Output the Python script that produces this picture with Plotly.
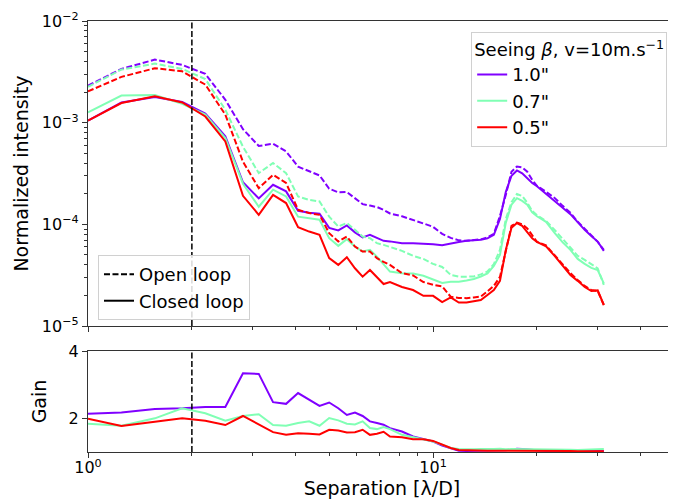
"""Normalized intensity and gain vs separation, open and closed loop"""

import plotly.graph_objects as go

# separation [lambda/D]
separation = [1.0, 1.25, 1.5625, 1.875, 2.1875, 2.5, 2.8125, 3.125, 3.4375, 3.75,
              4.0625, 4.375, 4.6875, 5.0, 5.3125, 5.625, 5.9375, 6.25, 6.5625, 6.875,
              7.1875, 7.5, 8.125, 8.75, 9.375, 10.0, 10.625, 11.25, 11.875, 12.5,
              13.125, 13.75, 14.375, 15.0, 15.625, 16.25, 16.875, 17.5, 18.125, 18.75,
              19.375, 20.0, 21.25, 22.5, 23.75, 25.0, 26.25, 27.5, 28.75, 30.0, 31.25]

# seeing 1.0"
open_10 = [2.31e-3, 3.38e-3, 4.17e-3, 3.70e-3, 3.02e-3, 1.68e-3, 8.63e-4, 5.9e-4, 6.21e-4, 5.22e-4,
           3.69e-4, 3.31e-4, 3.03e-4, 2.24e-4, 2.06e-4, 2.08e-4, 1.81e-4, 1.58e-4, 1.53e-4, 1.48e-4,
           1.39e-4, 1.28e-4, 1.20e-4, 1.11e-4, 1.02e-4, 9.45e-5, 8.06e-5, 7.36e-5, 6.96e-5, 6.88e-5,
           7.04e-5, 7.12e-5, 7.45e-5, 8.06e-5, 1.21e-4, 1.95e-4, 3.29e-4, 3.71e-4, 3.64e-4, 3.29e-4,
           2.74e-4, 2.39e-4, 2.09e-4, 1.82e-4, 1.52e-4, 1.30e-4, 1.06e-4, 9.03e-5, 7.70e-5, 6.72e-5, 5.61e-5]
closed_10 = [1.05e-3, 1.58e-3, 1.79e-3, 1.60e-3, 1.23e-3, 7.33e-4, 2.59e-4, 1.80e-4, 2.45e-4, 2.11e-4,
             1.36e-4, 1.30e-4, 1.27e-4, 9.24e-5, 8.73e-5, 9.77e-5, 8.34e-5, 7.45e-5, 7.88e-5, 7.36e-5,
             6.88e-5, 6.80e-5, 6.53e-5, 6.53e-5, 6.50e-5, 6.38e-5, 6.24e-5, 6.50e-5, 6.72e-5, 6.88e-5,
             6.99e-5, 7.04e-5, 7.28e-5, 7.88e-5, 1.13e-4, 2.09e-4, 3.01e-4, 3.39e-4, 3.18e-4, 2.87e-4,
             2.55e-4, 2.37e-4, 2.00e-4, 1.70e-4, 1.45e-4, 1.26e-4, 1.05e-4, 8.83e-5, 7.70e-5, 6.77e-5, 5.48e-5]

# seeing 0.7"
open_07 = [2.25e-3, 3.33e-3, 3.81e-3, 3.38e-3, 2.69e-3, 1.34e-3, 5.80e-4, 3.19e-4, 4.01e-4, 3.19e-4,
           1.88e-4, 1.74e-4, 1.68e-4, 1.19e-4, 9.51e-5, 1.03e-4, 8.83e-5, 7.59e-5, 7.31e-5, 6.53e-5,
           6.28e-5, 6.00e-5, 5.48e-5, 4.90e-5, 4.57e-5, 4.08e-5, 3.81e-5, 3.18e-5, 3.06e-5, 3.06e-5,
           3.07e-5, 3.22e-5, 3.44e-5, 4.06e-5, 5.61e-5, 1.13e-4, 1.65e-4, 1.99e-4, 1.90e-4, 1.63e-4,
           1.36e-4, 1.23e-4, 1.08e-4, 8.83e-5, 7.20e-5, 6.04e-5, 4.90e-5, 4.47e-5, 4.04e-5, 3.69e-5, 2.54e-5]
closed_07 = [1.26e-3, 1.85e-3, 1.87e-3, 1.53e-3, 1.20e-3, 7.07e-4, 2.51e-4, 1.49e-4, 2.19e-4, 1.88e-4,
             1.19e-4, 1.15e-4, 1.11e-4, 7.31e-5, 6.14e-5, 7.15e-5, 6.04e-5, 5.40e-5, 5.61e-5, 4.82e-5,
             4.08e-5, 3.43e-5, 3.31e-5, 3.29e-5, 3.12e-5, 2.85e-5, 2.65e-5, 2.73e-5, 2.73e-5, 2.81e-5,
             2.90e-5, 3.07e-5, 3.29e-5, 3.90e-5, 5.01e-5, 1.04e-4, 1.56e-4, 1.81e-4, 1.70e-4, 1.56e-4,
             1.31e-4, 1.20e-4, 1.06e-4, 8.25e-5, 6.65e-5, 5.61e-5, 4.57e-5, 4.08e-5, 3.73e-5, 3.55e-5, 2.63e-5]

# seeing 0.5"
open_05 = [2.03e-3, 2.82e-3, 3.43e-3, 3.20e-3, 2.37e-3, 1.20e-3, 4.13e-4, 2.27e-4, 3.07e-4, 2.55e-4,
           1.39e-4, 1.29e-4, 1.24e-4, 8.19e-5, 6.77e-5, 7.59e-5, 6.04e-5, 5.40e-5, 5.40e-5, 4.65e-5,
           4.27e-5, 3.99e-5, 3.31e-5, 3.14e-5, 2.71e-5, 2.54e-5, 2.45e-5, 1.94e-5, 1.89e-5, 1.88e-5,
           1.91e-5, 1.95e-5, 2.19e-5, 2.48e-5, 3.04e-5, 5.61e-5, 9.67e-5, 1.04e-4, 1.00e-4, 9.13e-5,
           7.70e-5, 6.72e-5, 6.21e-5, 5.01e-5, 4.04e-5, 3.31e-5, 2.84e-5, 2.48e-5, 2.26e-5, 2.21e-5, 1.61e-5]
closed_05 = [1.05e-3, 1.56e-3, 1.82e-3, 1.58e-3, 1.15e-3, 6.54e-4, 1.91e-4, 1.24e-4, 1.95e-4, 1.62e-4,
             9.39e-5, 8.49e-5, 7.88e-5, 4.65e-5, 3.99e-5, 4.75e-5, 3.70e-5, 3.06e-5, 3.56e-5, 3.06e-5,
             2.59e-5, 2.71e-5, 2.42e-5, 2.26e-5, 1.98e-5, 1.98e-5, 1.72e-5, 1.91e-5, 1.70e-5, 1.70e-5,
             1.76e-5, 1.80e-5, 2.02e-5, 2.26e-5, 2.78e-5, 5.61e-5, 9.24e-5, 1.03e-4, 9.67e-5, 8.44e-5,
             7.28e-5, 6.72e-5, 6.07e-5, 4.90e-5, 3.90e-5, 3.18e-5, 2.78e-5, 2.42e-5, 2.21e-5, 2.24e-5, 1.61e-5]

# gain (open / closed)
gain_10 = [2.14, 2.17, 2.28, 2.30, 2.34, 2.34, 3.34, 3.32, 2.48, 2.43,
           2.75, 2.55, 2.37, 2.47, 2.30, 2.10, 2.17, 2.07, 1.91, 1.86,
           1.81, 1.71, 1.61, 1.46, 1.38, 1.31, 1.19, 1.12, 1.04, 1.03,
           1.03, 1.04, 1.04, 1.03, 1.04, 1.05, 1.07, 1.10, 1.09, 1.07,
           1.06, 1.05, 1.04, 1.05, 1.04, 1.04, 1.03, 1.04, 1.03, 1.04, 1.03]
gain_07 = [1.84, 1.78, 2.00, 2.30, 2.15, 1.93, 2.07, 2.12, 1.80, 1.78,
           1.86, 1.91, 1.78, 2.01, 1.94, 1.84, 1.82, 1.91, 1.71, 1.68,
           1.74, 1.68, 1.51, 1.44, 1.36, 1.31, 1.22, 1.12, 1.09, 1.08,
           1.08, 1.09, 1.08, 1.09, 1.10, 1.08, 1.09, 1.09, 1.08, 1.08,
           1.07, 1.08, 1.07, 1.08, 1.07, 1.07, 1.06, 1.07, 1.07, 1.07, 1.09]
gain_05 = [1.99, 1.77, 1.90, 2.00, 1.93, 1.80, 2.07, 1.81, 1.59, 1.51,
           1.56, 1.54, 1.52, 1.66, 1.64, 1.58, 1.59, 1.66, 1.51, 1.54,
           1.60, 1.46, 1.44, 1.38, 1.38, 1.33, 1.23, 1.12, 1.06, 1.05,
           1.05, 1.05, 1.04, 1.04, 1.04, 1.03, 1.03, 1.04, 1.04, 1.05,
           1.04, 1.04, 1.03, 1.03, 1.03, 1.03, 1.02, 1.03, 1.02, 1.02, 1.02]

seeing_labels = ['1.0"', '0.7"', '0.5"']
colors = ['#8000ff', '#80ffb4', '#ff0000']
open_curves = [open_10, open_07, open_05]
closed_curves = [closed_10, closed_07, closed_05]
gain_curves = [gain_10, gain_07, gain_05]

x_major = [1, 10]
x_major_text = ['10<sup>0</sup>', '10<sup>1</sup>']
x_minor = [2, 3, 4, 5, 6, 7, 8, 9, 20, 30, 40, 50]
y_major = [1e-5, 1e-4, 1e-3, 1e-2]
y_major_text = ['10<sup>−5</sup>', '10<sup>−4</sup>', '10<sup>−3</sup>', '10<sup>−2</sup>']
y_minor = [m * 10.0 ** e for e in (-5, -4, -3) for m in range(2, 10)]

FONT = 'DejaVu Sans'
AXIS_COLOR = '#333333'
DASH = '6px,2.5px'

fig = go.Figure()

for label, color, ol, cl, g in zip(seeing_labels, colors, open_curves, closed_curves, gain_curves):
    fig.add_trace(go.Scatter(x=separation, y=ol, mode='lines', showlegend=False,
                             line=dict(color=color, width=2, dash=DASH), xaxis='x', yaxis='y'))
    fig.add_trace(go.Scatter(x=separation, y=cl, mode='lines', showlegend=False,
                             line=dict(color=color, width=2), xaxis='x', yaxis='y'))
    fig.add_trace(go.Scatter(x=separation, y=g, mode='lines', showlegend=False,
                             line=dict(color=color, width=2), xaxis='x2', yaxis='y2'))

# legend entries
for label, color in zip(seeing_labels, colors):
    fig.add_trace(go.Scatter(x=[None], y=[None], mode='lines', name=label, legend='legend',
                             line=dict(color=color, width=2), xaxis='x', yaxis='y'))
fig.add_trace(go.Scatter(x=[None], y=[None], mode='lines', name='Open loop', legend='legend2',
                         line=dict(color='black', width=2, dash=DASH), xaxis='x', yaxis='y'))
fig.add_trace(go.Scatter(x=[None], y=[None], mode='lines', name='Closed loop', legend='legend2',
                         line=dict(color='black', width=2), xaxis='x', yaxis='y'))

# vertical marker at 2 lambda/D in both panels
for xr, yr in [('x', 'y domain'), ('x2', 'y2 domain')]:
    fig.add_shape(type='line', x0=2, x1=2, y0=0, y1=1, xref=xr, yref=yr,
                  line=dict(color='black', width=1.5, dash=DASH))

minor_style = dict(ticks='outside', ticklen=3, tickwidth=1, tickcolor=AXIS_COLOR, showgrid=False)
common_x = dict(type='log', range=[0, 1.704], showline=True, linecolor=AXIS_COLOR, linewidth=1.3,
                mirror=True, ticks='outside', ticklen=5, tickwidth=1.2, tickcolor=AXIS_COLOR,
                tickmode='array', tickvals=x_major, ticktext=x_major_text,
                showgrid=False, zeroline=False, automargin=False,
                minor=dict(minor_style, tickmode='array', tickvals=x_minor))

# the page body adds an 8px offset, so the figure is 8px smaller than the window
fig.update_layout(
    width=668, height=493,
    margin=dict(l=80, r=0, t=13, b=49),
    plot_bgcolor='white', paper_bgcolor='white',
    font=dict(family=FONT, size=16, color='black'),
    xaxis=dict(common_x, domain=[0, 1], anchor='y', showticklabels=False, matches='x2'),
    yaxis=dict(type='log', range=[-5, -2], domain=[0.2923, 1.0], anchor='x',
               showline=True, linecolor=AXIS_COLOR, linewidth=1.3, ticks='outside', ticklen=5,
               tickwidth=1.2, tickcolor=AXIS_COLOR, tickmode='array', tickvals=y_major,
               ticktext=y_major_text, showgrid=False, zeroline=False, automargin=False,
               minor=dict(minor_style, tickmode='array', tickvals=y_minor),
               title=dict(text='Normalized intensity', standoff=8)),
    xaxis2=dict(common_x, domain=[0, 1], anchor='y2', ticklabelstandoff=-4,
                title=dict(text='Separation [λ/D]', standoff=2)),
    yaxis2=dict(range=[1, 4], domain=[0, 0.2343], anchor='x2', tickvals=[2, 4],
                showline=True, linecolor=AXIS_COLOR, linewidth=1.3, ticks='outside', ticklen=5,
                tickwidth=1.2, tickcolor=AXIS_COLOR, showgrid=False, zeroline=False,
                automargin=False, title=dict(text='Gain', standoff=16)),
    legend=dict(x=0.985, y=0.975, xanchor='right', yanchor='top',
                bgcolor='rgba(255,255,255,0.85)', bordercolor='#d0d0d0', borderwidth=1,
                font=dict(size=18), tracegroupgap=0, entrywidth=210,
                title=dict(text='Seeing <i>β</i>, v=10m.s<sup>−1</sup>', side='top',
                           font=dict(size=18))),
    legend2=dict(x=0.017, y=0.306, xanchor='left', yanchor='bottom',
                 bgcolor='rgba(255,255,255,0.85)', bordercolor='#d0d0d0', borderwidth=1,
                 font=dict(size=18), tracegroupgap=0, entrywidth=174),
)

fig.write_html("out.html")
